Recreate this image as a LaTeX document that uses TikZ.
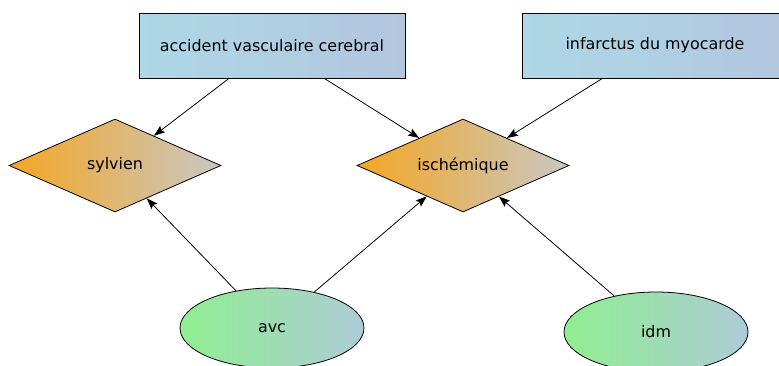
\documentclass[tikz,border=0pt]{standalone}
\usepackage{fontspec}
\setmainfont{DejaVu Sans}
\usetikzlibrary{arrows.meta}
\usetikzlibrary{shapes.geometric}

\definecolor{boxleft}{HTML}{ADD8E6}
\definecolor{boxright}{HTML}{B3C6DF}
\definecolor{diamleft}{HTML}{F5A623}
\definecolor{diamright}{HTML}{C8C8C4}
\definecolor{ellleft}{HTML}{90EE90}
\definecolor{ellright}{HTML}{ADCCD8}

\begin{document}
\begin{tikzpicture}[x=1pt, y=-1pt, >={Stealth[length=11pt, width=8pt, inset=2pt]},
  every node/.style={font=\fontsize{15.9}{19}\selectfont, inner sep=0pt},
  termbox/.style={rectangle, draw, thick, minimum width=266pt, minimum height=65pt,
    left color=boxleft, right color=boxright},
  typediam/.style={diamond, aspect=2.28, draw, thick, minimum width=212pt, minimum height=93pt,
    left color=diamleft, right color=diamright},
  abbrell/.style={ellipse, draw, thick, minimum width=184pt, minimum height=80pt,
    left color=ellleft, right color=ellright},
  link/.style={->, thick}]
  % \draw[gray, very thin, step=50] (0,0) grid (779,365);
  \clip (0,0) rectangle (779,365);
  \useasboundingbox (0,0) rectangle (779,365);

  \node[name=avcterm, termbox] at (272,45.5) {accident vasculaire cerebral};
  \node[name=idmterm, termbox] at (655,45.5) {infarctus du myocarde};

  \node[name=sylvien, typediam] at (115,165.5) {sylvien};
  \node[name=ischem, typediam] at (463,165.5) {ischémique};

  \node[name=avc, abbrell] at (272,328) {avc};
  \node[name=idm, abbrell] at (656,332) {idm};

  \draw[link] (avcterm) -- (sylvien);
  \draw[link] (avcterm) -- (ischem);
  \draw[link] (idmterm) -- (ischem);

  \draw[link] (avc) -- (sylvien);
  \draw[link] (avc) -- (ischem);
  \draw[link] (idm) -- (ischem);
\end{tikzpicture}
\end{document}
